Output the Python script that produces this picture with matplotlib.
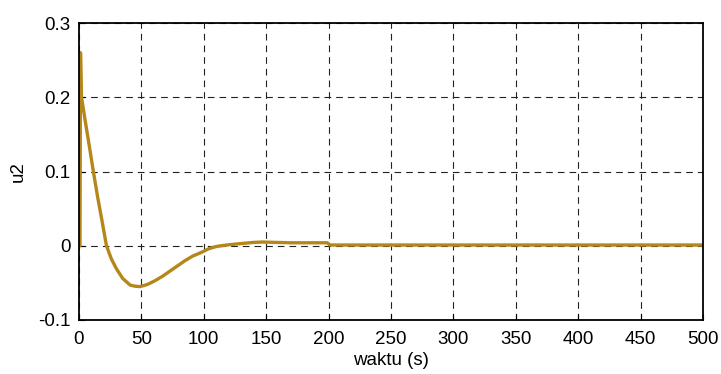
import numpy as np
import matplotlib.pyplot as plt

plt.rcParams['font.family'] = ['Liberation Sans', 'DejaVu Sans']

# time (s) and u2 values
waktu = [0, 0.8, 1.2, 2, 5, 8, 11.5, 15, 18.5, 22, 26, 30, 35, 41, 45, 49,
         55, 61, 67, 73, 79, 85, 91, 98, 104, 110, 116, 121, 130, 140, 147,
         158, 170, 185, 199, 201, 250, 300, 350, 400, 450, 500]
u2 = [0, 0, 0.26, 0.2, 0.168, 0.137, 0.1, 0.065, 0.033, 0.0, -0.018, -0.031,
      -0.044, -0.053, -0.0545, -0.055, -0.052, -0.047, -0.041, -0.034,
      -0.027, -0.020, -0.014, -0.009, -0.004, -0.001, 0.0005, 0.0015,
      0.003, 0.0045, 0.005, 0.0045, 0.004, 0.004, 0.004, 0.001, 0.001,
      0.001, 0.001, 0.001, 0.001, 0.001]

xticks = np.arange(0, 501, 50)
yticks = [-0.1, 0, 0.1, 0.2, 0.3]
ytick_labels = ["-0.1", "0", "0.1", "0.2", "0.3"]

fig = plt.figure(figsize=(7.21, 3.74), dpi=100)
ax = fig.add_axes([79 / 721, 1 - 320 / 374, 624 / 721, 297 / 374])

ax.plot(waktu, u2, color='#B5861A', linewidth=2.4, solid_joinstyle='round')

ax.set_xlim(0, 500)
ax.set_ylim(-0.1, 0.3)
ax.set_xticks(xticks)
ax.set_yticks(yticks)
ax.set_yticklabels(ytick_labels)
ax.tick_params(direction='in', length=4, labelsize=13.5, color='black')
ax.tick_params(axis='x', pad=8)
ax.tick_params(axis='y', pad=6)

ax.grid(True, color='#222222', linestyle=(0, (6, 4.5)), linewidth=0.8)
for s in ax.spines.values():
    s.set_linewidth(1.3)

ax.set_xlabel("waktu (s)", fontsize=13.5, labelpad=3)
ax.set_ylabel("u2", fontsize=13.5, labelpad=8)

fig.savefig("out.png", dpi=100)
